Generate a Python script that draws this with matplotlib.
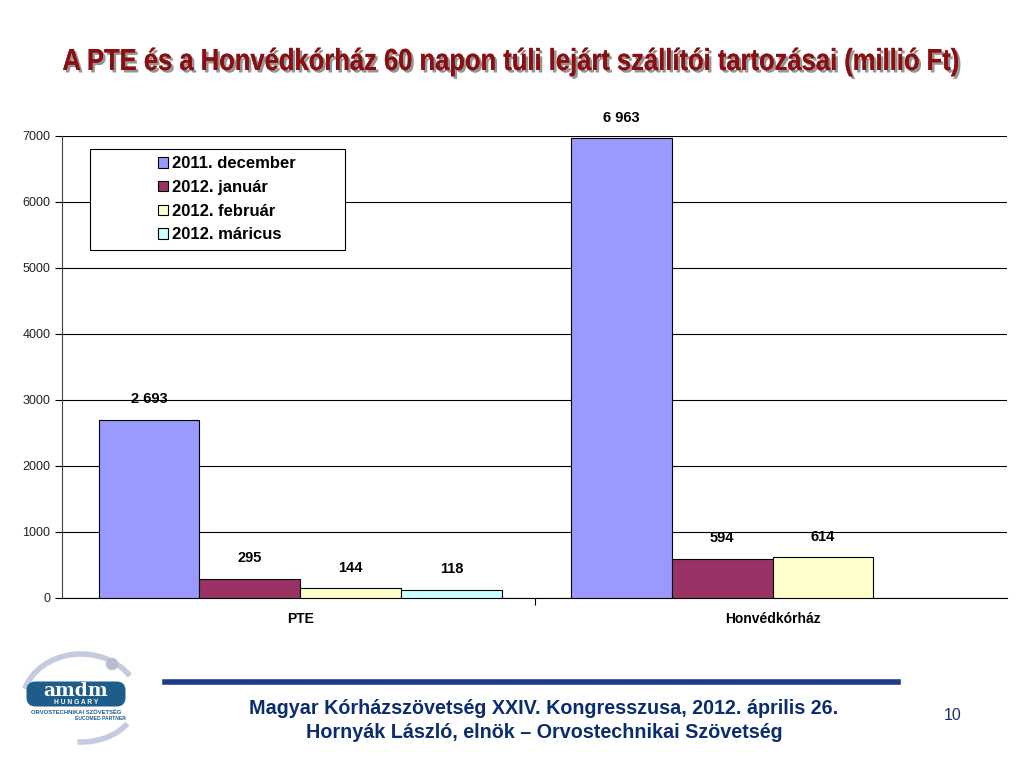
import matplotlib.pyplot as plt
import matplotlib.patheffects as pe
from matplotlib.patches import FancyBboxPatch, Rectangle, PathPatch, Arc, Circle
from matplotlib.textpath import TextPath
from matplotlib.font_manager import FontProperties
from matplotlib.transforms import Affine2D
import numpy as np

# Chart data
categories = ["PTE", "Honvédkórház"]
series = ["2011. december", "2012. január", "2012. február", "2012. máricus"]
values = [
    [2693, 6963],
    [295, 594],
    [144, 614],
    [118, np.nan],
]
colors = ["#9999FF", "#993366", "#FFFFCC", "#CCFFFF"]
yticks = [0, 1000, 2000, 3000, 4000, 5000, 6000, 7000]

title = "A PTE és a Honvédkórház 60 napon túli lejárt szállítói tartozásai (millió Ft)"
footer1 = "Magyar Kórházszövetség XXIV. Kongresszusa, 2012. április 26."
footer2 = "Hornyák László, elnök – Orvostechnikai Szövetség"
page_no = "10"

plt.rcParams['font.family'] = ['Liberation Sans', 'DejaVu Sans']

W, H = 1024, 768
fig = plt.figure(figsize=(W / 100, H / 100), dpi=100)
ax = fig.add_axes([62/W, 1 - 598/H, 945/W, 462/H])

x = np.arange(len(categories))
w = 0.2133
for i, (name, vals, c) in enumerate(zip(series, values, colors)):
    pos = x + (i - 1.5) * w + 0.004
    bars = ax.bar(pos, vals, w, color=c, edgecolor="black", linewidth=0.8,
                  label=name, zorder=3)
    for b, v in zip(bars, vals):
        if np.isnan(v):
            continue
        ax.annotate(f"{int(v):,}".replace(",", " "),
                    (b.get_x() + b.get_width() / 2, v),
                    xytext=(0, 10), textcoords="offset points",
                    ha="center", va="bottom", fontsize=10.5, fontweight="bold")

ax.set_xlim(-0.5, 1.5)
ax.set_ylim(0, 7000)
ax.set_yticks(yticks)
ax.tick_params(axis="y", labelsize=9, direction="out", length=5, width=0.8,
               labelcolor="#222222")
ax.yaxis.grid(True, color="black", linewidth=0.8, zorder=0)
ax.set_axisbelow(True)

ax.set_xticks([0.5])
ax.set_xticklabels([""])
ax.tick_params(axis="x", direction="out", length=5, width=0.8)
for xi, cat in zip(x, categories):
    ax.text(xi + 0.004, -0.03, cat, transform=ax.get_xaxis_transform(),
            ha="center", va="top", fontsize=10, fontweight="bold")

for s in ["top", "right"]:
    ax.spines[s].set_visible(False)
ax.spines["left"].set_linewidth(0.8)
ax.spines["bottom"].set_linewidth(0.8)
ax.spines["left"].set_color("#444444")

# Legend frame drawn separately (Excel-style wide box)
ax.add_patch(Rectangle((28/945, (598-250)/462), 255/945, 101/462,
                       transform=ax.transAxes, facecolor="white",
                       edgecolor="black", linewidth=0.8, zorder=5))
leg = ax.legend(loc="upper left", bbox_to_anchor=((150-62)/945, (598-148)/462),
                frameon=False, handlelength=0.6, handleheight=0.6,
                handletextpad=0.25, labelspacing=0.52, borderpad=0,
                prop={'size': 12, 'weight': 'bold'})
leg.set_zorder(6)
for hnd in leg.legend_handles:
    hnd.set_linewidth(0.8)

# Title: condensed bold text with a grey shadow
fp = FontProperties(family="Liberation Sans", weight="bold")
tp = TextPath((0, 0), title, size=30.5, prop=fp)
bb = tp.get_extents()
sx = 895 / bb.width
tr = (Affine2D().translate(-bb.x0 - bb.width / 2, 0).scale(sx, 1)
      .translate(510.5, H - 70).scale(1 / W, 1 / H) + fig.transFigure)
title_patch = PathPatch(tp, transform=tr, facecolor="#8B0F12", edgecolor="none",
                        path_effects=[pe.withSimplePatchShadow(offset=(1.8, -1.8),
                                      shadow_rgbFace="#8a8a8a", alpha=0.9),
                                      pe.Normal()])
fig.add_artist(title_patch)

# Footer
navy = "#0B2C6E"
fig.add_artist(plt.Line2D([165/W, 898/W], [1 - 682/H] * 2,
                          color="#1F3A8A", linewidth=4))
fig.text(544/W, 1 - 709/H, footer1, ha="center", va="center",
         fontsize=14.2, color=navy, fontweight="bold")
fig.text(544/W, 1 - 733/H, footer2, ha="center", va="center",
         fontsize=14.2, color=navy, fontweight="bold")
fig.text(953/W, 1 - 716/H, page_no, ha="center", va="center",
         fontsize=11.5, color="#1A2E6E")

# Logo approximation
lax = fig.add_axes([15/W, 1 - 765/H, 130/W, 115/H])
lax.set_xlim(0, 130)
lax.set_ylim(115, 0)
lax.axis("off")
lax.add_patch(Arc((66, 54), 118, 100, theta1=195, theta2=330,
                  color="#C5CADF", linewidth=4))
lax.add_patch(Arc((66, 52), 110, 80, theta1=25, theta2=95,
                  color="#C5CADF", linewidth=4))
lax.add_patch(Circle((97, 14), 5.5, color="#B8BCD0"))
lax.add_patch(FancyBboxPatch((13, 33), 96, 22, boxstyle="round,pad=1.5,rounding_size=9",
                             facecolor="#1E5C8A", edgecolor="none"))
lax.text(61, 41, "amdm", ha="center", va="center", fontsize=13.5,
         color="white", fontweight="bold", family="DejaVu Serif")
lax.text(61, 52.5, "H U N G A R Y", ha="center", va="center", fontsize=4.8,
         color="white", fontweight="bold")
lax.text(61, 62, "ORVOSTECHNIKAI SZÖVETSÉG", ha="center", va="center",
         fontsize=4.2, color="#1E5C8A", fontweight="bold")
lax.text(85, 68, "EUCOMED PARTNER", ha="center", va="center",
         fontsize=3.6, color="#1E5C8A", fontweight="bold")

fig.savefig("out.png", dpi=100)
